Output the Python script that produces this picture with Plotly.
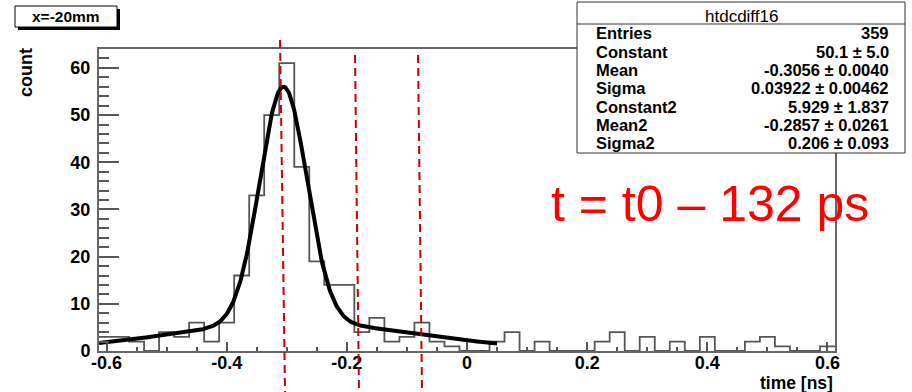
import numpy as np
import plotly.graph_objects as go

# ---------------- data ----------------
bin_low = -0.6125
bin_width = 0.025
counts = [3, 3, 2, 0, 4, 3, 6, 2, 6, 16,
          33, 50, 61, 39, 19, 14, 14, 4, 7, 2,
          3, 6, 2, 1, 0, 0, 2, 4, 0, 2,
          0, 0, 0, 2, 4, 0, 3, 0, 2, 0,
          3, 0, 0, 2, 3, 1, 0, 0, 1]

# fit parameters (from the stats box)
const1, mean1, sigma1 = 50.1, -0.3056, 0.03922
const2, mean2, sigma2 = 5.929, -0.2857, 0.206
fit_range = [-0.6125, 0.05]

x_tick_vals = [-0.6, -0.4, -0.2, 0.0, 0.2, 0.4, 0.6]
x_tick_text = ["-0.6", "-0.4", "-0.2", "0", "0.2", "0.4", "0.6"]
y_tick_vals = [0, 10, 20, 30, 40, 50, 60]
y_tick_text = ["0", "10", "20", "30", "40", "50", "60"]

stats_title = "htdcdiff16"
stats_labels = ["Entries", "Constant", "Mean", "Sigma", "Constant2", "Mean2", "Sigma2"]
stats_values = ["359", "50.1 \u00b1 5.0", "-0.3056 \u00b1 0.0040", "0.03922 \u00b1 0.00462",
                "5.929 \u00b1 1.837", "-0.2857 \u00b1 0.0261", "0.206 \u00b1 0.093"]

# red marker lines (time positions: top, bottom)
marker_lines = [(-0.3112, -0.3029), (-0.1864, -0.1798), (-0.0815, -0.0749)]

# ---------------- geometry helpers ----------------
W, H = 912, 392
L, R, T, B = 99, 835, 49, 351


def px(xp):
    return (xp - L) / (R - L)


def py(yp):
    return (B - yp) / (B - T)


edges = bin_low + bin_width * np.arange(len(counts) + 1)
step_y = counts + [counts[-1]]

fx = np.linspace(fit_range[0], fit_range[1], 400)
fy = const1 * np.exp(-0.5 * ((fx - mean1) / sigma1) ** 2) + const2 * np.exp(-0.5 * ((fx - mean2) / sigma2) ** 2)

fig = go.Figure()
fig.add_trace(go.Scatter(x=edges, y=step_y, mode="lines", line=dict(shape="hv", color="#555555", width=1.8),
                         hoverinfo="skip"))
fig.add_trace(go.Scatter(x=fx, y=fy, mode="lines", line=dict(color="black", width=4), hoverinfo="skip"))

HELV = "Liberation Sans, Arial, Helvetica, sans-serif"
tickfont = dict(family=HELV, size=18, color="black", weight="bold")

fig.update_layout(
    width=W, height=H, autosize=False,
    margin=dict(l=L, r=W - R, t=T, b=H - B),
    paper_bgcolor="white", plot_bgcolor="white", showlegend=False,
    xaxis=dict(range=[bin_low, bin_low + bin_width * len(counts)], tickvals=x_tick_vals, ticktext=x_tick_text,
               ticks="inside", ticklen=9, tickwidth=1.5, tickcolor="#555",
               showline=True, linecolor="#666", linewidth=2, mirror=True,
               showgrid=False, zeroline=False, tickfont=tickfont, ticklabelstandoff=-6,
               minor=dict(dtick=0.05, tick0=0, ticks="inside", ticklen=4.5, tickwidth=1.5, tickcolor="#555")),
    yaxis=dict(range=[0, 64], tickvals=y_tick_vals, ticktext=y_tick_text,
               ticks="inside", ticklen=20, tickwidth=1.5, tickcolor="#555",
               showline=True, linecolor="#666", linewidth=2, mirror=True,
               showgrid=False, zeroline=False, tickfont=tickfont, ticklabelstandoff=3,
               minor=dict(dtick=2, tick0=0, ticks="inside", ticklen=10, tickwidth=1.5, tickcolor="#555")),
)

shapes = []
# red dashed lines
for (xt, xb) in marker_lines:
    ytop = py(40) if xt < -0.25 else py(55)
    shapes.append(dict(type="line", xref="x", yref="paper", x0=xt, x1=xb, y0=ytop, y1=py(392),
                       line=dict(color="#cc0000", width=2, dash="8px,5px"), layer="above"))
# title box with shadow
shapes.append(dict(type="rect", xref="paper", yref="paper", x0=px(18), x1=px(120), y0=py(30), y1=py(9),
                   fillcolor="black", line=dict(width=0), layer="above"))
shapes.append(dict(type="rect", xref="paper", yref="paper", x0=px(15), x1=px(117), y0=py(27), y1=py(6),
                   fillcolor="white", line=dict(color="black", width=1), layer="above"))
# stats box
shapes.append(dict(type="rect", xref="paper", yref="paper", x0=px(577), x1=px(905), y0=py(153), y1=py(2),
                   fillcolor="white", line=dict(color="#333", width=1), layer="above"))
shapes.append(dict(type="line", xref="paper", yref="paper", x0=px(577), x1=px(905), y0=py(24), y1=py(24),
                   line=dict(color="#333", width=1), layer="above"))
fig.update_layout(shapes=shapes)

boldfont = dict(family=HELV, color="black", weight="bold")
ann = []
ann.append(dict(text="x=-20mm", xref="paper", yref="paper", x=px(66), y=py(16), xanchor="center", yanchor="middle",
                showarrow=False, font=dict(size=15.5, **boldfont)))
ann.append(dict(text="count", xref="paper", yref="paper", x=px(26), y=py(73), xanchor="center", yanchor="middle",
                textangle=-90, showarrow=False, font=dict(size=18, **boldfont)))
ann.append(dict(text="time [ns]", xref="paper", yref="paper", x=1.0, y=py(383), xanchor="right", yanchor="middle",
                showarrow=False, font=dict(size=17.5, **boldfont)))
ann.append(dict(text=stats_title, xref="paper", yref="paper", x=px(741), y=py(16), xanchor="center", yanchor="middle",
                showarrow=False, font=dict(size=17, family=HELV, color="black")))
for i, (lab, val) in enumerate(zip(stats_labels, stats_values)):
    yy = 33.3 + 18.33 * i
    ann.append(dict(text=lab, xref="paper", yref="paper", x=px(594), y=py(yy), xanchor="left", yanchor="middle",
                    showarrow=False, font=dict(size=16.5, **boldfont)))
    ann.append(dict(text=val, xref="paper", yref="paper", x=px(891), y=py(yy), xanchor="right", yanchor="middle",
                    showarrow=False, font=dict(size=16.5, **boldfont)))
ann.append(dict(text="t = t0 \u2013 132 ps", xref="paper", yref="paper", x=px(710), y=py(204), xanchor="center",
                yanchor="middle", showarrow=False,
                font=dict(size=50, family="'Liberation Sans', Arial, sans-serif", color="#ff0000")))
fig.update_layout(annotations=ann)

fig.write_html("out.html")
